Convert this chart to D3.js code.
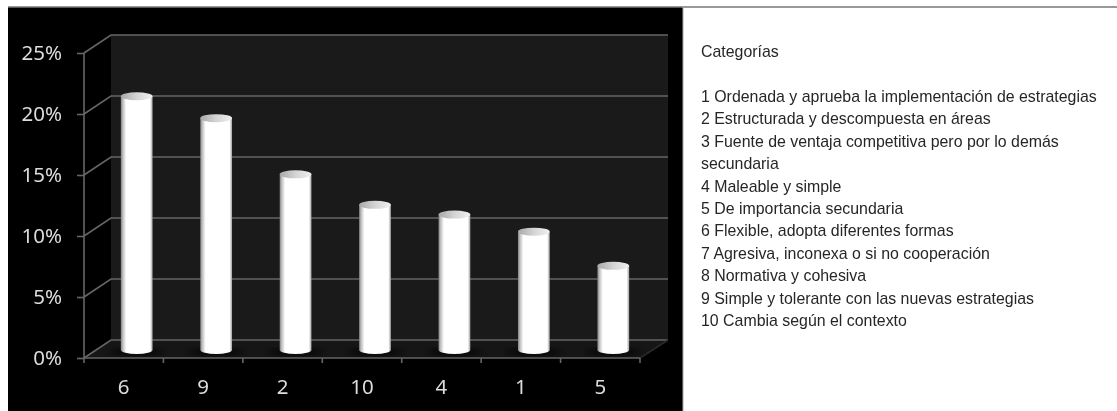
<!DOCTYPE html>
<html lang="es">
<head>
<meta charset="utf-8">
<title>Categorías</title>
<script src="https://cdn.jsdelivr.net/npm/d3@7/dist/d3.min.js"></script>
<style>
  html, body { margin: 0; padding: 0; background: #fff; }
  svg { display: block; }
  .legend { font-family: "Liberation Sans", Arial, sans-serif; font-size: 15.9px; fill: #262626; }
</style>
</head>
<body>
<svg id="chart" width="1117" height="411"></svg>
<script>
// Chart data
const categories = ["6", "9", "2", "10", "4", "1", "5"];
const shares = [20.8, 19, 14.4, 11.9, 11.1, 9.7, 6.9];
const percentTicks = [0, 5, 10, 15, 20, 25];
const legendTitle = "Categorías";
const legendLines = [
  "1 Ordenada y aprueba la implementación de estrategias",
  "2 Estructurada y descompuesta en áreas",
  "3 Fuente de ventaja competitiva pero por lo demás",
  "secundaria",
  "4 Maleable y simple",
  "5 De importancia secundaria",
  "6 Flexible, adopta diferentes formas",
  "7 Agresiva, inconexa o si no cooperación",
  "8 Normativa y cohesiva",
  "9 Simple y tolerante con las nuevas estrategias",
  "10 Cambia según el contexto"
];

const svg = d3.select("#chart");
const defs = svg.append("defs");

// Front plane of the pseudo-3D box, and the depth offsets of the back wall and bar axis
const x = d3.scaleBand().domain(categories).range([84, 640]).paddingInner(0.6).paddingOuter(0.3);
const y = d3.scaleLinear().domain([0, 25]).range([358, 53]);
const depth = { dx: 27, dy: -18 };
const barDepth = { dx: 13, dy: -8 };
const left = x.range()[0], right = x.range()[1];

// Cylinder shading
const side = defs.append("linearGradient").attr("id", "cylinder");
[[0, "#808080"], [0.06, "#bdbdbd"], [0.17, "#ffffff"], [0.92, "#ffffff"], [1, "#a0a0a0"]]
  .forEach(([o, c]) => side.append("stop").attr("offset", o).attr("stop-color", c));
const cap = defs.append("linearGradient").attr("id", "cap");
[[0, "#a8a8a8"], [0.5, "#d4d4d4"], [1, "#f0f0f0"]]
  .forEach(([o, c]) => cap.append("stop").attr("offset", o).attr("stop-color", c));
const glow = defs.append("filter").attr("id", "soft").attr("x", "-30%").attr("width", "160%");
glow.append("feGaussianBlur").attr("stdDeviation", 3);
const soft = defs.append("filter").attr("id", "textSoft");
soft.append("feGaussianBlur").attr("stdDeviation", 0.35);

// Panel background and its top rule
svg.append("rect").attr("x", 8).attr("y", 7).attr("width", 675).attr("height", 404).attr("fill", "#000");
svg.append("line").attr("x1", 8).attr("x2", 1117).attr("y1", 7).attr("y2", 7)
  .attr("stroke", "#777").attr("stroke-width", 1.5);
svg.append("line").attr("x1", 683).attr("x2", 683).attr("y1", 7).attr("y2", 411)
  .attr("stroke", "#aaa").attr("stroke-width", 1);

// Back wall and floor
svg.append("rect")
  .attr("x", left + depth.dx).attr("y", y(25) + depth.dy)
  .attr("width", right - left + 1).attr("height", y(0) - y(25))
  .attr("fill", "#1a1a1a");
svg.append("polygon")
  .attr("points", [[left, y(0)], [left + depth.dx, y(0) + depth.dy], [right + depth.dx + 1, y(0) + depth.dy], [right, y(0)]].join(" "))
  .attr("fill", "#161616");

// Gridlines on the back wall and the side wall
const grid = svg.append("g").attr("stroke", "#666").attr("stroke-width", 1.6).attr("fill", "none");
grid.selectAll("polyline").data(percentTicks).join("polyline")
  .attr("points", d => [[left, y(d)], [left + depth.dx, y(d) + depth.dy], [right + depth.dx + 1, y(d) + depth.dy]].join(" "));
grid.append("line").attr("x1", right).attr("y1", y(0)).attr("x2", right + depth.dx + 1).attr("y2", y(0) + depth.dy)
  .attr("stroke", "#2a2a2a");

// Axes on the front plane
const yAxis = svg.append("g").attr("transform", `translate(${left},0)`)
  .call(d3.axisLeft(y).tickValues(percentTicks).tickSize(7).tickPadding(15).tickFormat(d => d + "%"));
const xAxis = svg.append("g").attr("transform", `translate(0,${y(0)})`)
  .call(d3.axisBottom(x).tickSize(0).tickPadding(21));
[yAxis, xAxis].forEach(a => {
  a.selectAll("path.domain").attr("stroke", "#666").attr("stroke-width", 1.6);
  a.selectAll(".tick line").attr("stroke", "#666").attr("stroke-width", 1.6);
  a.selectAll("text").attr("font-size", 20.5).attr("filter", "url(#textSoft)")
    .style("font-family", '"Noto Sans", sans-serif').attr("fill", "#dcdcdc");
});
yAxis.selectAll("path.domain").attr("d", `M0,${y(25)}V${y(0)}`);
xAxis.selectAll("path.domain").attr("d", `M${left},0H${right}`);

// Tick marks between the categories on the x axis
const step = x.step();
xAxis.selectAll("line.sep").data(d3.range(categories.length + 1)).join("line").attr("class", "sep")
  .attr("x1", i => left + i * step).attr("x2", i => left + i * step)
  .attr("y1", 0).attr("y2", 5).attr("stroke", "#666").attr("stroke-width", 1.6);

// Cylinders
const bars = svg.append("g").selectAll("g").data(categories.map((c, i) => ({ c, v: shares[i] }))).join("g")
  .attr("transform", d => `translate(${x(d.c) + barDepth.dx},${barDepth.dy})`);
const rw = x.bandwidth() / 2, ry = 4;
bars.append("ellipse").attr("cx", rw).attr("cy", y(0) + 2).attr("rx", rw + 12).attr("ry", 3.5)
  .attr("fill", "#000").attr("opacity", 0.7).attr("filter", "url(#soft)");
bars.append("path")
  .attr("d", d => `M0,${y(d.v)}V${y(0)}A${rw},${ry} 0 0 0 ${2 * rw},${y(0)}V${y(d.v)}Z`)
  .attr("fill", "url(#cylinder)");
bars.append("ellipse").attr("cx", rw).attr("cy", d => y(d.v)).attr("rx", rw).attr("ry", ry)
  .attr("fill", "url(#cap)");

// Category key on the right
const legend = svg.append("g").attr("class", "legend").attr("filter", "url(#textSoft)");
const legendY = d3.scaleLinear().domain([0, legendLines.length - 1]).range([102, 326]);
legend.append("text").attr("x", 701).attr("y", 57).text(legendTitle);
legend.selectAll("text.row").data(legendLines).join("text").attr("class", "row")
  .attr("x", 701).attr("y", (d, i) => legendY(i)).text(d => d);
</script>
</body>
</html>
